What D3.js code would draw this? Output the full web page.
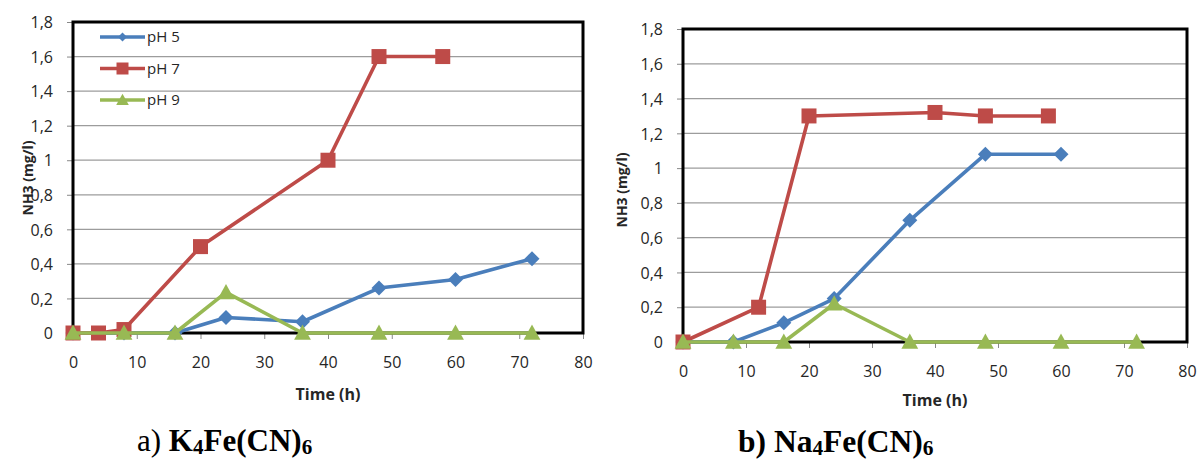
<!DOCTYPE html>
<html>
<head>
<meta charset="utf-8">
<script src="https://cdn.jsdelivr.net/npm/d3@7"></script>
<style>
  body { margin: 0; background: #fff; }
  svg { display: block; }
  .tick text { font-family: "Open Sans", sans-serif; font-size: 16px; fill: #262626; }
</style>
</head>
<body>
<div class="plot"></div>
<script>
/* data */
const seriesNames = ["pH 5", "pH 7", "pH 9"];
const xTicks = [0, 10, 20, 30, 40, 50, 60, 70, 80];
const yTicks = [0, 0.2, 0.4, 0.6, 0.8, 1, 1.2, 1.4, 1.6, 1.8];

// panel a) K4Fe(CN)6  -- [time (h), NH3 (mg/l)]
const aPH5 = [[0, 0], [8, 0], [16, 0], [24, 0.09], [36, 0.065], [48, 0.26], [60, 0.31], [72, 0.43]];
const aPH7 = [[0, 0], [4, 0], [8, 0.02], [20, 0.5], [40, 1.0], [48, 1.6], [58, 1.6]];
const aPH9 = [[0, 0], [8, 0], [16, 0], [24, 0.235], [36, 0], [48, 0], [60, 0], [72, 0]];

// panel b) Na4Fe(CN)6
const bPH5 = [[0, 0], [8, 0], [16, 0.11], [24, 0.25], [36, 0.7], [48, 1.08], [60, 1.08]];
const bPH7 = [[0, 0], [12, 0.2], [20, 1.3], [40, 1.32], [48, 1.3], [58, 1.3]];
const bPH9 = [[0, 0], [8, 0], [16, 0], [24, 0.22], [36, 0], [48, 0], [60, 0], [72, 0]];

/* series styles (excel 2007 palette) */
const colors = ["#4a7ebb", "#be4b48", "#98b954"];
const shapes = ["diamond", "square", "triangle"];

function markerPath(shape, s) {
  switch (shape) {
    case "diamond":
      return `M0,${-s}L${s},0L0,${s}L${-s},0Z`;
    case "square":
      return `M${-s},${-s}H${s}V${s}H${-s}Z`;
    case "triangle":
      return `M0,${-s * 1.05}L${s * 1.05},${s * 0.85}L${-s * 1.05},${s * 0.85}Z`;
  }
}
const markerSize = [7.5, 7.5, 8];

const fmt = d => String(+d.toFixed(1)).replace(".", ",");

const svg = d3.select(".plot").append("svg")
  .attr("width", 1203)
  .attr("height", 460);

function drawPanel(cfg) {
  const x = d3.scaleLinear().domain([0, 80]).range([cfg.left, cfg.right]);
  const y = d3.scaleLinear().domain([0, 1.8]).range([cfg.bottom, cfg.top]);
  const g = svg.append("g");

  /* horizontal grid lines */
  g.append("g")
    .selectAll("line")
    .data(yTicks.slice(1, -1))
    .join("line")
      .attr("x1", cfg.left).attr("x2", cfg.right)
      .attr("y1", d => y(d)).attr("y2", d => y(d))
      .attr("stroke", "#9c9c9c")
      .attr("stroke-width", 1.3);

  /* y axis */
  const yAxis = d3.axisLeft(y).tickValues(yTicks).tickFormat(fmt).tickSize(6).tickPadding(14);
  const yGroup = g.append("g")
    .attr("transform", `translate(${cfg.left},0)`)
    .call(yAxis);
  yGroup.select(".domain").attr("stroke", "#888");
  yGroup.selectAll(".tick line").attr("stroke", "#888");
  yGroup.selectAll(".tick text").attr("dy", "0.36em");

  /* x axis */
  const xAxis = d3.axisBottom(x).tickValues(xTicks).tickSize(6);
  const xGroup = g.append("g")
    .attr("transform", `translate(0,${cfg.bottom})`)
    .call(xAxis);
  xGroup.select(".domain").attr("stroke", "#888");
  xGroup.selectAll(".tick line").attr("stroke", "#888");
  xGroup.selectAll(".tick text").attr("y", 35).attr("dy", 0);

  /* plot area border */
  g.append("rect")
    .attr("x", cfg.left).attr("y", cfg.top)
    .attr("width", cfg.right - cfg.left)
    .attr("height", cfg.bottom - cfg.top)
    .attr("fill", "none")
    .attr("stroke", "#000")
    .attr("stroke-width", 3);

  /* series: lines then markers, last series on top */
  const line = d3.line()
    .x(d => x(d[0]))
    .y(d => y(d[1]));

  cfg.series.forEach((data, i) => {
    g.append("path")
      .datum(data)
      .attr("d", line)
      .attr("fill", "none")
      .attr("stroke", colors[i])
      .attr("stroke-width", 3.6)
      .attr("stroke-linejoin", "round");

    g.selectAll(".m" + i)
      .data(data)
      .join("path")
        .attr("class", "m" + i)
        .attr("transform", d => `translate(${x(d[0])},${y(d[1])})`)
        .attr("d", markerPath(shapes[i], markerSize[i]))
        .attr("fill", colors[i]);
  });

  /* legend */
  if (cfg.legend) {
    const lg = g.append("g").attr("transform", `translate(${cfg.legend.x},${cfg.legend.y})`);
    seriesNames.forEach((name, i) => {
      const row = lg.append("g").attr("transform", `translate(0,${i * cfg.legend.gap})`);
      row.append("line")
        .attr("x1", 0).attr("x2", 45)
        .attr("stroke", colors[i])
        .attr("stroke-width", 3.6);
      row.append("path")
        .attr("transform", "translate(22.5,0)")
        .attr("d", markerPath(shapes[i], i === 0 ? 4.5 : 6))
        .attr("fill", colors[i]);
      row.append("text")
        .attr("x", 47).attr("dy", "0.36em")
        .attr("font-family", "Open Sans, sans-serif")
        .attr("font-size", 15)
        .attr("fill", "#262626")
        .text(name);
    });
  }

  /* axis titles */
  g.append("text")
    .attr("transform", `translate(${cfg.yTitle[0]},${cfg.yTitle[1]}) rotate(-90)`)
    .attr("text-anchor", "middle")
    .attr("dy", "0.35em")
    .attr("font-family", "Open Sans, sans-serif")
    .attr("font-size", 14)
    .attr("font-weight", "bold")
    .attr("fill", "#262626")
    .text("NH3 (mg/l)");

  g.append("text")
    .attr("x", cfg.xTitle[0]).attr("y", cfg.xTitle[1])
    .attr("text-anchor", "middle")
    .attr("font-family", "Open Sans, sans-serif")
    .attr("font-size", 16)
    .attr("font-weight", "bold")
    .attr("fill", "#262626")
    .text("Time (h)");

  /* caption below the chart */
  const cap = g.append("text")
    .attr("x", cfg.caption.x).attr("y", cfg.caption.y)
    .attr("font-family", "Liberation Serif, Times New Roman, serif")
    .attr("font-size", cfg.caption.size)
    .attr("fill", "#000");
  const drop = 3;
  cfg.caption.parts.forEach(p => {
    const t = cap.append("tspan").text(p.t);
    if (p.b) t.attr("font-weight", "bold");
    if (p.sub) t.attr("font-size", cfg.caption.size * 0.68).attr("dy", drop);
    if (p.up) t.attr("dy", -drop);
  });
}

drawPanel({
  left: 73, right: 583, top: 22, bottom: 333,
  series: [aPH5, aPH7, aPH9],
  legend: {x: 100, y: 37, gap: 31.5},
  yTitle: [28, 178],
  xTitle: [328, 400],
  caption: {
    x: 137, y: 451, size: 31,
    parts: [
      {t: "a) "}, {t: "K", b: true}, {t: "4", b: true, sub: true},
      {t: "Fe(CN)", b: true, up: true}, {t: "6", b: true, sub: true}
    ]
  }
});

drawPanel({
  left: 683, right: 1187, top: 29, bottom: 342,
  series: [bPH5, bPH7, bPH9],
  legend: null,
  yTitle: [622, 190],
  xTitle: [935, 406],
  caption: {
    x: 738, y: 452, size: 31.5,
    parts: [
      {t: "b) Na", b: true}, {t: "4", b: true, sub: true},
      {t: "Fe(CN)", b: true, up: true}, {t: "6", b: true, sub: true}
    ]
  }
});
</script>
</body>
</html>
